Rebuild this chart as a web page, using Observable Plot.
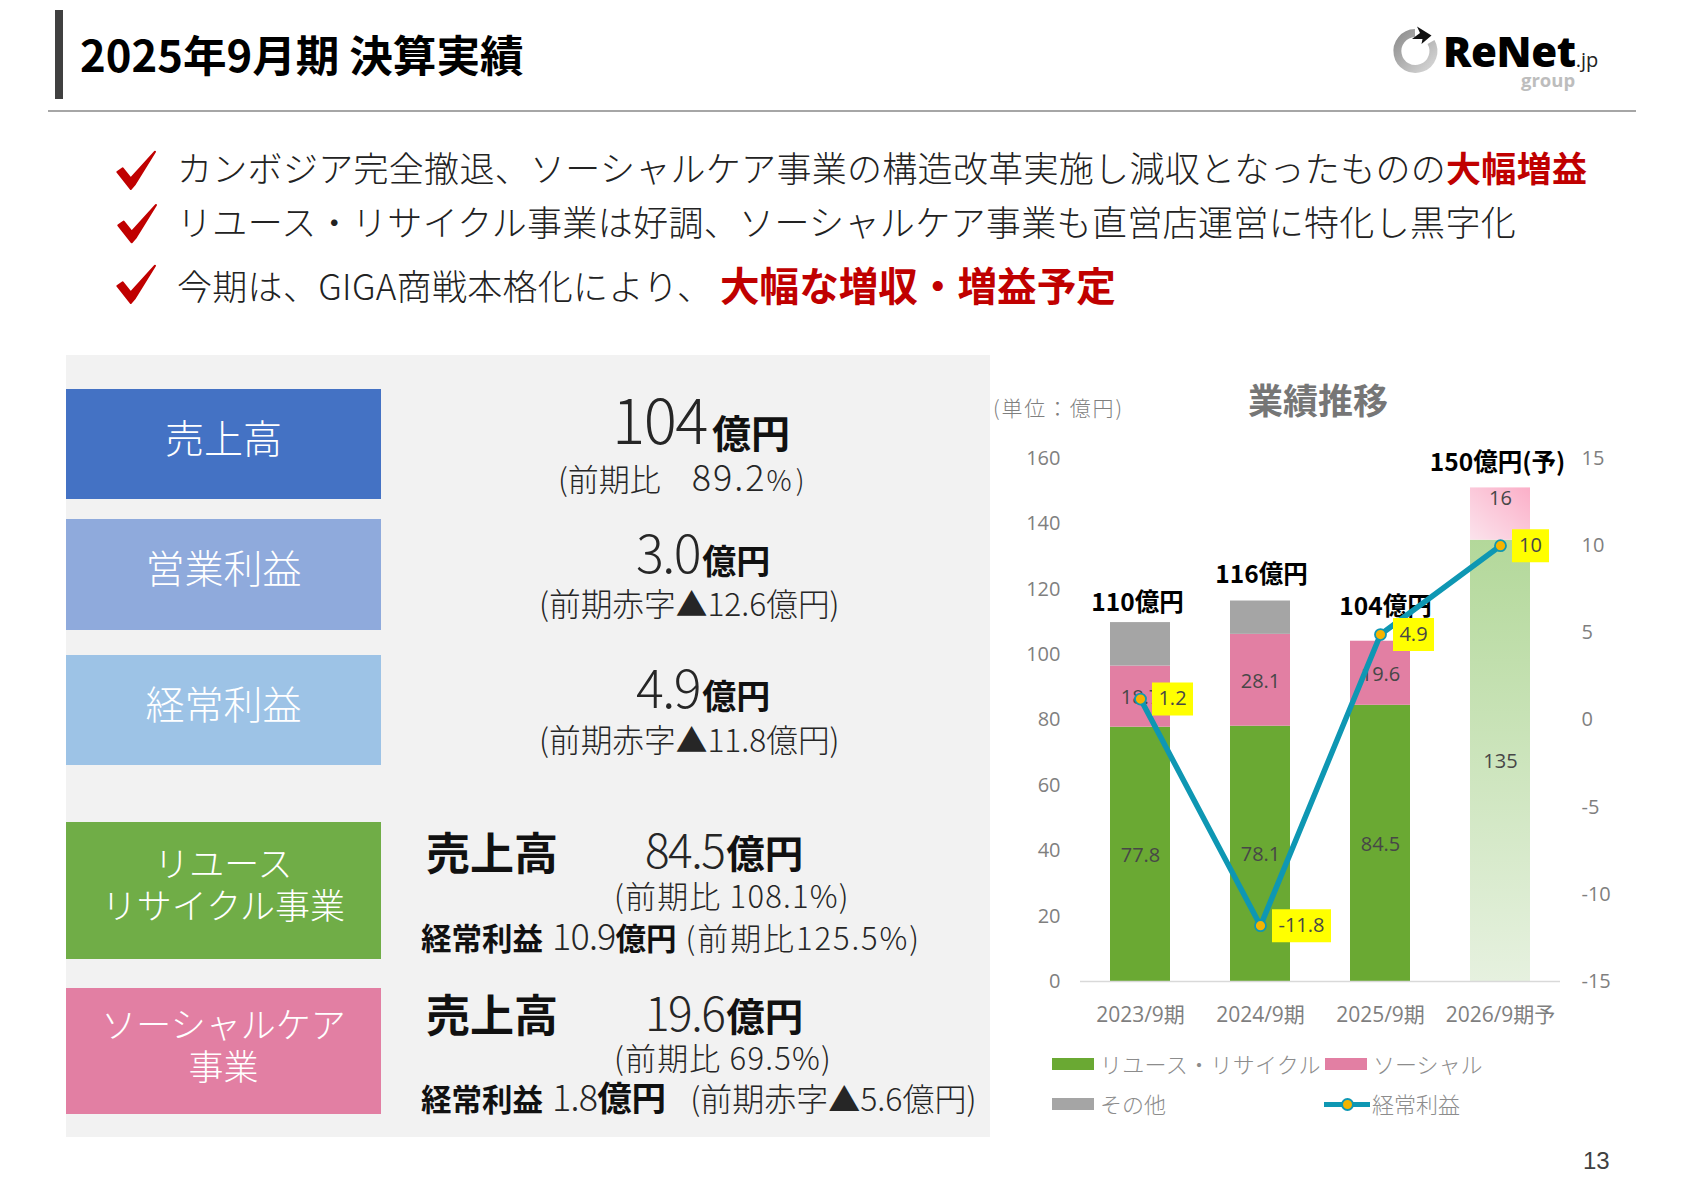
<!DOCTYPE html>
<html lang="ja">
<head>
<meta charset="utf-8">
<script src="https://cdn.jsdelivr.net/npm/d3@7"></script>
<script src="https://cdn.jsdelivr.net/npm/@observablehq/plot@0.6"></script>
<style>
html,body{margin:0;padding:0;background:#fff;}
#page{position:relative;width:1683px;height:1190px;overflow:hidden;font-family:"Noto Sans CJK JP","Noto Sans",sans-serif;}
.r{position:absolute;}
.t{position:absolute;white-space:nowrap;line-height:1;font-weight:300;color:#262626;font-size:0;}
.t span,.t b{line-height:1;}
.t b{font-weight:700;color:#111;}
.box{position:absolute;box-sizing:border-box;left:66px;width:315px;display:flex;align-items:center;justify-content:center;text-align:center;color:#fff;font-weight:300;font-size:39px;line-height:42px;padding-bottom:17px;}
.box.two{font-size:35px;padding-bottom:15px;}
.bullet{font-size:35px;letter-spacing:.3px;color:#222;}
.bullet b{color:#c00000;font-size:35px;}
#chart{position:absolute;left:990px;top:430px;}
.lg{position:absolute;white-space:nowrap;line-height:1;color:#8c8c8c;font-weight:300;font-size:22px;}
.sw{position:absolute;height:12px;width:42px;}
</style>
</head>
<body>
<div id="page">
  <svg class="r" style="left:0;top:0" width="1683" height="1190">
    <defs>
      <linearGradient id="ringGrad" x1="0" y1="0" x2="1" y2="1"><stop offset="0" stop-color="#8f8f8f"/><stop offset="1" stop-color="#d6d6d6"/></linearGradient>
      <path id="check" d="M7.3 27 L12.7 23.3 L20.7 33.3 L45 6.7 L25 39 L20.7 44 Z" fill="#c00000" stroke="#c00000" stroke-width="2" stroke-linejoin="round"/>
    </defs>
    <use href="#check" x="110" y="145"/>
    <use href="#check" x="111" y="198.3"/>
    <use href="#check" x="110" y="259"/>
    <path d="M1431 42 A18 18 0 1 1 1415 33" fill="none" stroke="url(#ringGrad)" stroke-width="8"/>
    <path d="M1417 26.5 L1431.5 35.5 L1421.5 44 L1422.5 39 L1412 39 L1420 33 Z" fill="#111"/>
  </svg>

  <div class="r" style="left:55px;top:10px;width:8px;height:89px;background:#404040"></div>
  <div class="t" style="left:80px;top:32px"><b style="font-size:43.6px;color:#000">2025年9月期 決算実績</b></div>
  <div class="r" style="left:48px;top:110px;width:1588px;height:2px;background:#a6a6a6"></div>

  <div class="t" style="left:1443px;top:30px;font-family:'Open Sans'"><span style="font-size:42px;font-weight:800;color:#000;letter-spacing:-.4px">ReNet</span><span style="font-size:20px;font-weight:400;color:#222">.jp</span></div>
  <div class="t" style="left:1521px;top:71px;font-family:'Open Sans'"><span style="font-size:18.5px;font-weight:700;color:#bdbdbd">group</span></div>

  <div class="t bullet" style="left:177px;top:149px;font-size:35px">カンボジア完全撤退、ソーシャルケア事業の構造改革実施し減収となったものの<b>大幅増益</b></div>
  <div class="t bullet" style="left:177px;top:203px;font-size:35px;letter-spacing:.35px">リユース・リサイクル事業は好調、ソーシャルケア事業も直営店運営に特化し黒字化</div>
  <div class="t bullet" style="left:177px;top:267px;font-size:35px">今期は、GIGA商戦本格化により、</div>
  <div class="t" style="left:720px;top:264px"><b style="font-size:39.6px;color:#c00000">大幅な増収・増益予定</b></div>

  <div class="r" style="left:66px;top:355px;width:924px;height:782px;background:#f2f2f2"></div>
  <div class="box" style="top:389px;height:110px;background:#4472c4">売上高</div>
  <div class="box" style="top:519px;height:111px;background:#8faadc">営業利益</div>
  <div class="box" style="top:655px;height:110px;background:#9dc3e6">経常利益</div>
  <div class="box two" style="top:822px;height:137px;background:#70ad47">リユース<br>リサイクル事業</div>
  <div class="box two" style="top:988px;height:126px;background:#e27fa3">ソーシャルケア<br>事業</div>

  <div class="t" style="left:612px;top:386px"><span style="font-size:62px;letter-spacing:-1.5px">104</span><b style="font-size:39px;margin-left:5px;position:relative;top:4px">億円</b></div>
  <div class="t" style="left:558px;top:457px"><span style="font-size:31px">(前期比　</span><span style="font-size:36px;letter-spacing:2px">89.2</span><span style="font-size:28px;letter-spacing:4px">%)</span></div>

  <div class="t" style="left:636px;top:525px"><span style="font-size:52px;letter-spacing:-1.5px">3.0</span><b style="font-size:34px;margin-left:2px;position:relative;top:1px">億円</b></div>
  <div class="t" style="left:539px;top:587px"><span style="font-size:31.7px">(前期赤字▲12.6億円)</span></div>

  <div class="t" style="left:636px;top:660px"><span style="font-size:52px;letter-spacing:-1.5px">4.9</span><b style="font-size:34px;margin-left:2px;position:relative;top:1px">億円</b></div>
  <div class="t" style="left:539px;top:723px"><span style="font-size:31.7px">(前期赤字▲11.8億円)</span></div>

  <div class="t" style="left:426px;top:829px"><b style="font-size:44px">売上高</b></div>
  <div class="t" style="left:645px;top:825px"><span style="font-size:46px;letter-spacing:-1.5px">84.5</span><b style="font-size:38.5px;margin-left:2px">億円</b></div>
  <div class="t" style="left:614px;top:879px"><span style="font-size:31px;letter-spacing:1.2px">(前期比 108.1%)</span></div>
  <div class="t" style="left:421px;top:916px"><b style="font-size:30.5px">経常利益</b><span style="font-size:36px;margin-left:9px;letter-spacing:-.8px">10.9</span><b style="font-size:30.5px">億円</b><span style="font-size:31px;margin-left:9px;letter-spacing:1.9px">(前期比125.5%)</span></div>

  <div class="t" style="left:426px;top:991px"><b style="font-size:44px">売上高</b></div>
  <div class="t" style="left:645px;top:988px"><span style="font-size:46px;letter-spacing:-1.5px">19.6</span><b style="font-size:38.5px;margin-left:2px">億円</b></div>
  <div class="t" style="left:614px;top:1041px"><span style="font-size:31px;letter-spacing:1.2px">(前期比 69.5%)</span></div>
  <div class="t" style="left:421px;top:1077px"><b style="font-size:30.5px">経常利益</b><span style="font-size:36px;margin-left:9px;letter-spacing:-.8px">1.8</span><b style="font-size:34.5px">億円</b><span style="font-size:32px;margin-left:24px">(前期赤字▲5.6億円)</span></div>

  <div class="t" style="left:993px;top:397px"><span style="font-size:21px;letter-spacing:1.8px;color:#7f7f7f">(単位：億円)</span></div>
  <div class="t" style="left:1248px;top:381px"><b style="font-size:35px;color:#767676">業績推移</b></div>

  <div id="chart"></div>

  <div class="sw" style="left:1052px;top:1058px;background:#6aa933"></div>
  <div class="lg" style="left:1100px;top:1052px;letter-spacing:.3px">リユース・リサイクル</div>
  <div class="sw" style="left:1325px;top:1058px;background:#e27fa3"></div>
  <div class="lg" style="left:1373px;top:1052px">ソーシャル</div>
  <div class="sw" style="left:1052px;top:1098px;background:#a5a5a5"></div>
  <div class="lg" style="left:1100px;top:1092px">その他</div>
  <div class="r" style="left:1324px;top:1101.5px;width:46px;height:5px;background:#0e97b3"></div>
  <div class="r" style="left:1340.5px;top:1098px;width:9px;height:9px;border:2px solid #0e97b3;border-radius:50%;background:#f5b400"></div>
  <div class="lg" style="left:1372px;top:1092px">経常利益</div>

  <div class="t" style="left:1583px;top:1149px;font-family:'Liberation Sans'"><span style="font-size:24px;font-weight:400;color:#404040">13</span></div>
</div>

<script>
const periods = ["2023/9期", "2024/9期", "2025/9期", "2026/9期予"];
const reuseSales = [77.8, 78.1, 84.5, 135];
const socialSales = [18.7, 28.1, 19.6, 16];
const otherSales = [13.3, 10.2, 0, 0];
const totalLabels = ["110億円", "116億円", "104億円", "150億円(予)"];
const ordinaryProfit = [1.2, -11.8, 4.9, 10];
const salesTicks = [0, 20, 40, 60, 80, 100, 120, 140, 160];
const profitTicks = [-15, -10, -5, 0, 5, 10, 15];

const LABEL_FONT = '"Open Sans","Noto Sans CJK JP",sans-serif';
const TICK_GRAY = "#7f7f7f";
const DATA_GRAY = "#474747";

// Right axis (profit) is mapped onto the left axis (sales) range.
const profitToSales = d3.scaleLinear([-15, 15], [0, 160]);

// The forecast year uses gradient fills.
const fills = {
  reuse: ["#6aa933", "#6aa933", "#6aa933", "url(#forecastGreen)"],
  social: ["#e27fa3", "#e27fa3", "#e27fa3", "url(#forecastPink)"],
  other: ["#a5a5a5", "#a5a5a5", "#a5a5a5", "#a5a5a5"]
};

const stacked = periods.flatMap((period, i) => [
  {period, series: "reuse", value: reuseSales[i], fill: fills.reuse[i]},
  {period, series: "social", value: socialSales[i], fill: fills.social[i]},
  {period, series: "other", value: otherSales[i], fill: fills.other[i]}
]);
const profitRows = periods.map((period, i) => ({period, profit: ordinaryProfit[i], y: profitToSales(ordinaryProfit[i])}));
const totalRows = periods.map((period, i) => ({period, label: totalLabels[i], y: reuseSales[i] + socialSales[i] + otherSales[i]}));

// Hand placement of the annotations, as in the source slide.
const totalDx = [-3, 1, 5, -3];
const totalDy = [-19, -26, -34, -25];
const profitBoxDx = [32, 41, 33, 30];
const profitBoxW = [41, 59, 41, 37];
const PROFIT_BOX_H = 33;
const FORECAST_SOCIAL_LABEL_DY = -15;

const boxSymbol = (w, h) => ({draw(ctx) {
  ctx.moveTo(-w / 2, -h / 2); ctx.lineTo(w / 2, -h / 2); ctx.lineTo(w / 2, h / 2); ctx.lineTo(-w / 2, h / 2); ctx.closePath();
}});

const isLabelled = d => d.value > 0 && d.series !== "other";
const isForecastSocial = d => d.series === "social" && d.period === periods[3];
const segmentLabel = dy => Plot.stackY({x: "period", y: "value", z: "series", order: null, text: d => String(d.value), fontSize: 20, fill: DATA_GRAY, dy});

const chart = Plot.plot({
  width: 693,
  height: 611,
  marginLeft: 90,
  marginRight: 123,
  marginTop: 28,
  marginBottom: 60,
  style: {background: "transparent", fontFamily: LABEL_FONT, overflow: "visible"},
  x: {domain: periods, paddingInner: 0.5, paddingOuter: 0.25, axis: null},
  y: {domain: [0, 160], axis: null},
  color: {type: "identity"},
  marks: [
    Plot.barY(stacked, {x: "period", y: "value", z: "series", fill: "fill", order: null}),
    Plot.ruleY([0], {stroke: "#d9d9d9", strokeWidth: 1.5}),
    Plot.axisY(salesTicks, {anchor: "left", tickSize: 0, tickPadding: 20, label: null, fontSize: 20, color: TICK_GRAY, tickFormat: String}),
    Plot.axisY(profitTicks.map(v => profitToSales(v)), {anchor: "right", tickSize: 0, tickPadding: 21, label: null, fontSize: 20, color: TICK_GRAY,
      tickFormat: v => String(Math.round(profitToSales.invert(v)))}),
    Plot.axisX({anchor: "bottom", tickSize: 0, tickPadding: 26, label: null, fontSize: 21, color: TICK_GRAY}),
    Plot.text(stacked, {...segmentLabel(1), filter: d => isLabelled(d) && !isForecastSocial(d)}),
    Plot.text(stacked, {...segmentLabel(FORECAST_SOCIAL_LABEL_DY), filter: isForecastSocial}),
    ...totalRows.map((d, i) => Plot.text([d], {x: "period", y: "y", text: "label", dx: totalDx[i], dy: totalDy[i], fontSize: 24.5, fontWeight: 700, fontFamily: '"Noto Sans CJK JP",sans-serif', fill: "#000"})),
    Plot.line(profitRows, {x: "period", y: "y", stroke: "#0e97b3", strokeWidth: 5.5}),
    ...profitRows.map((d, i) => Plot.dot([d], {x: "period", y: "y", dx: profitBoxDx[i], symbol: boxSymbol(profitBoxW[i], PROFIT_BOX_H), fill: "#ffff00", stroke: "none"})),
    ...profitRows.map((d, i) => Plot.text([d], {x: "period", y: "y", dx: profitBoxDx[i], text: r => String(r.profit), fontSize: 20, fill: DATA_GRAY})),
    Plot.dot(profitRows, {x: "period", y: "y", r: 5.5, fill: "#f5b400", stroke: "#0e97b3", strokeWidth: 1.8})
  ]
});

const defs = d3.select(chart).insert("defs", ":first-child");
const green = defs.append("linearGradient").attr("id", "forecastGreen").attr("x1", 0).attr("y1", 0).attr("x2", 0).attr("y2", 1);
green.append("stop").attr("offset", 0).attr("stop-color", "#b3d89a");
green.append("stop").attr("offset", 1).attr("stop-color", "#e6f1df");
const pink = defs.append("linearGradient").attr("id", "forecastPink").attr("x1", 1).attr("y1", 0).attr("x2", 0).attr("y2", 1);
pink.append("stop").attr("offset", 0).attr("stop-color", "#fbafc8");
pink.append("stop").attr("offset", 1).attr("stop-color", "#fbe3ec");

document.getElementById("chart").append(chart);
</script>
</body>
</html>
